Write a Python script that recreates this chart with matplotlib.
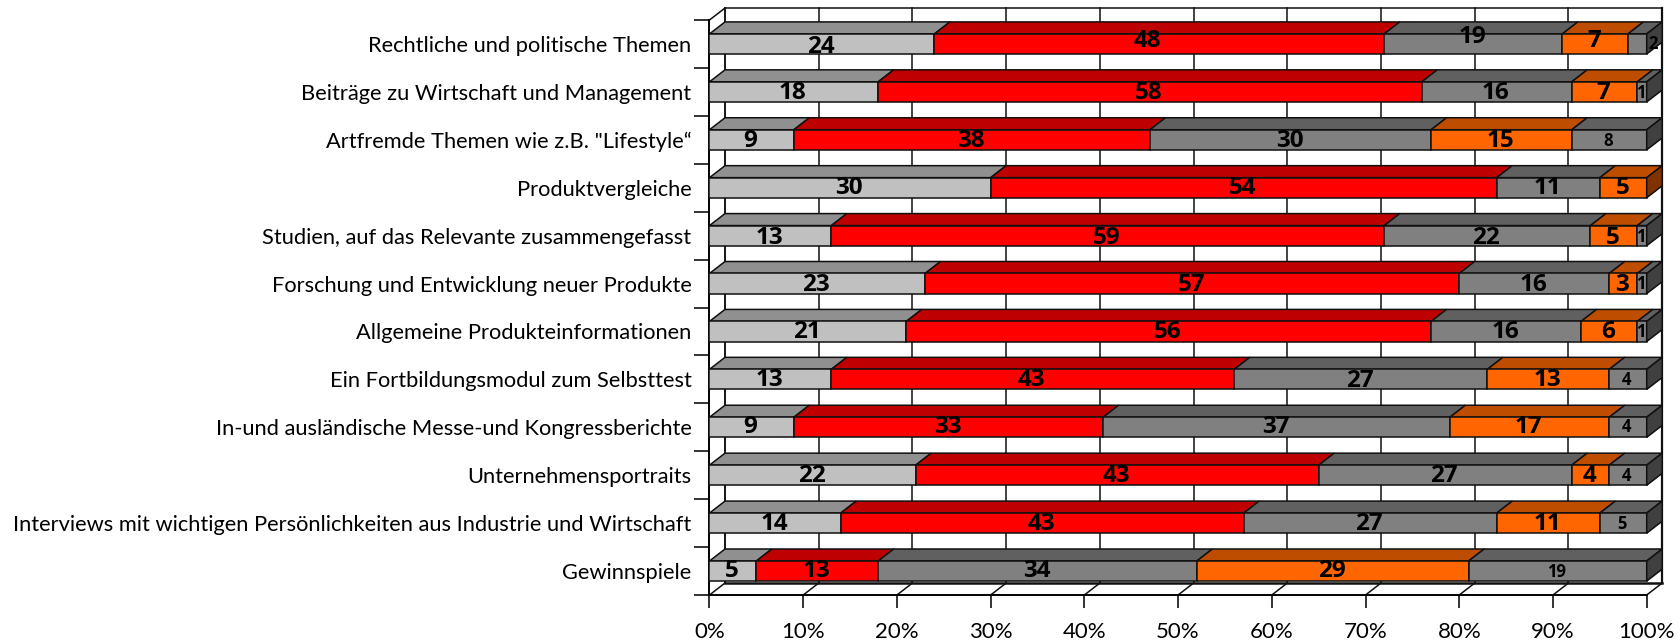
import matplotlib
matplotlib.use("Agg")
import matplotlib.pyplot as plt
from matplotlib.patches import Polygon
import numpy as np

plt.rcParams['font.family'] = ['Lato', 'DejaVu Sans']

categories = [
    'Rechtliche und politische Themen',
    'Beiträge zu Wirtschaft und Management',
    'Artfremde Themen wie z.B. "Lifestyle“',
    'Produktvergleiche',
    'Studien, auf das Relevante zusammengefasst',
    'Forschung und Entwicklung neuer Produkte',
    'Allgemeine Produkteinformationen',
    'Ein Fortbildungsmodul zum Selbsttest',
    'In-und ausländische Messe-und Kongressberichte',
    'Unternehmensportraits',
    'Interviews mit wichtigen Persönlichkeiten aus Industrie und Wirtschaft',
    'Gewinnspiele',
]
series_a = [24, 18, 9, 30, 13, 23, 21, 13, 9, 22, 14, 5]
series_b = [48, 58, 38, 54, 59, 57, 56, 43, 33, 43, 43, 13]
series_c = [19, 16, 30, 11, 22, 16, 16, 27, 37, 27, 27, 34]
series_d = [7, 7, 15, 5, 5, 3, 6, 13, 17, 4, 11, 29]
series_e = [2, 1, 8, 0, 1, 1, 1, 4, 4, 4, 5, 19]
x_ticks = [0, 10, 20, 30, 40, 50, 60, 70, 80, 90, 100]

front = ['#C0C0C0', '#FF0000', '#808080', '#FF6600', '#808080']
top = ['#909090', '#BF0000', '#606060', '#BF4D00', '#606060']
side = ['#606060', '#800000', '#404040', '#803300', '#404040']

# the labels in the original are not centred, shift in pixels (down, right)
label_down = [
    [3, -3, -7, -3, 0],
    [1, 1, 1, 1, 1],
    [1, 1, 1, 1, 1],
    [0, 0, 0, 0, 0],
    [2, 2, 2, 2, 1],
    [1, 1, 1, 1, 0],
    [1, 1, 1, 1, 1],
    [1, 1, 2, 1, 1],
    [0, 0, 0, 0, 0],
    [1, 1, 1, 1, 1],
    [1, 1, 1, 1, 1],
    [0, 0, 0, 0, 1],
]
label_right = {(0, 1): -12, (0, 4): 16}

W, H = 1681, 642
DX = 1.654   # depth in percent
DY = 0.25    # depth in rows

fig = plt.figure(figsize=(W / 100, H / 100), dpi=100)
ax = fig.add_axes([709.5 / W, 1 - 595 / H, 937.2 / W, 575 / H])
ax.set_xlim(0, 100)
ax.set_ylim(12, 0)
ax.set_facecolor('none')
for s in ['top', 'right']:
    ax.spines[s].set_visible(False)
for s in ['left', 'bottom']:
    ax.spines[s].set_linewidth(1.4)

# back wall and floor
lw = 1.1
ink = '#101010'
ax.plot([DX, DX], [-DY, 12 - DY], color=ink, lw=lw, clip_on=False, zorder=1)
ax.plot([100 + DX, 100 + DX], [-DY, 12 - DY], color=ink, lw=1.6, clip_on=False, zorder=1)
ax.plot([DX, 100 + DX], [-DY, -DY], color=ink, lw=lw, clip_on=False, zorder=1)
ax.plot([DX, 100 + DX], [12 - DY, 12 - DY], color=ink, lw=1.8, clip_on=False, zorder=1)
ax.plot([0, DX], [0, -DY], color=ink, lw=lw, clip_on=False, zorder=1)
for t in x_ticks:
    ax.plot([t + DX, t + DX], [-DY, 12 - DY], color=ink, lw=lw, clip_on=False, zorder=1)
    ax.plot([t, t + DX], [12, 12 - DY], color=ink, lw=lw, clip_on=False, zorder=1)

rows = np.array([series_a, series_b, series_c, series_d, series_e]).T
for i, row in enumerate(rows):
    yc = i + 0.5
    y0 = yc - 0.21
    y1 = yc + 0.21
    left = 0
    last = max(j for j, v in enumerate(row) if v > 0)
    for j, v in enumerate(row):
        if v == 0:
            continue
        right = left + v
        ax.add_patch(Polygon([(left, y0), (right, y0), (right + DX, y0 - DY), (left + DX, y0 - DY)],
                             facecolor=top[j], edgecolor=ink, lw=lw, clip_on=False, zorder=2))
        ax.add_patch(Polygon([(left, y0), (right, y0), (right, y1), (left, y1)],
                             facecolor=front[j], edgecolor=ink, lw=lw, clip_on=False, zorder=3))
        if j == last:
            ax.add_patch(Polygon([(right, y0), (right + DX, y0 - DY), (right + DX, y1 - DY), (right, y1)],
                                 facecolor=side[j], edgecolor=ink, lw=lw, clip_on=False, zorder=3))
        small = j == 4
        ax.annotate(str(v), (left + v / 2, yc), xytext=(label_right.get((i, j), -1), -label_down[i][j]),
                    textcoords='offset pixels', ha='center', va='center', fontweight='bold',
                    fontfamily=['Open Sans', 'DejaVu Sans'],
                    fontsize=12 if small else 17.5, color='black', annotation_clip=False, zorder=5)
        left = right

ax.set_xticks(x_ticks)
ax.set_xticklabels([f'{t}%' for t in x_ticks], fontsize=16)
ax.tick_params(axis='x', length=9.5, width=1.2, pad=10, color=ink)
ax.set_yticks(range(13))
ax.set_yticklabels([])
ax.tick_params(axis='y', which='major', length=10.5, width=1.2, color=ink)
ax.set_yticks(np.arange(12) + 0.5, minor=True)
ax.set_yticklabels(categories, minor=True, fontsize=15.75)
ax.tick_params(axis='y', which='minor', length=0, pad=13)

fig.savefig('out.png', dpi=100)
